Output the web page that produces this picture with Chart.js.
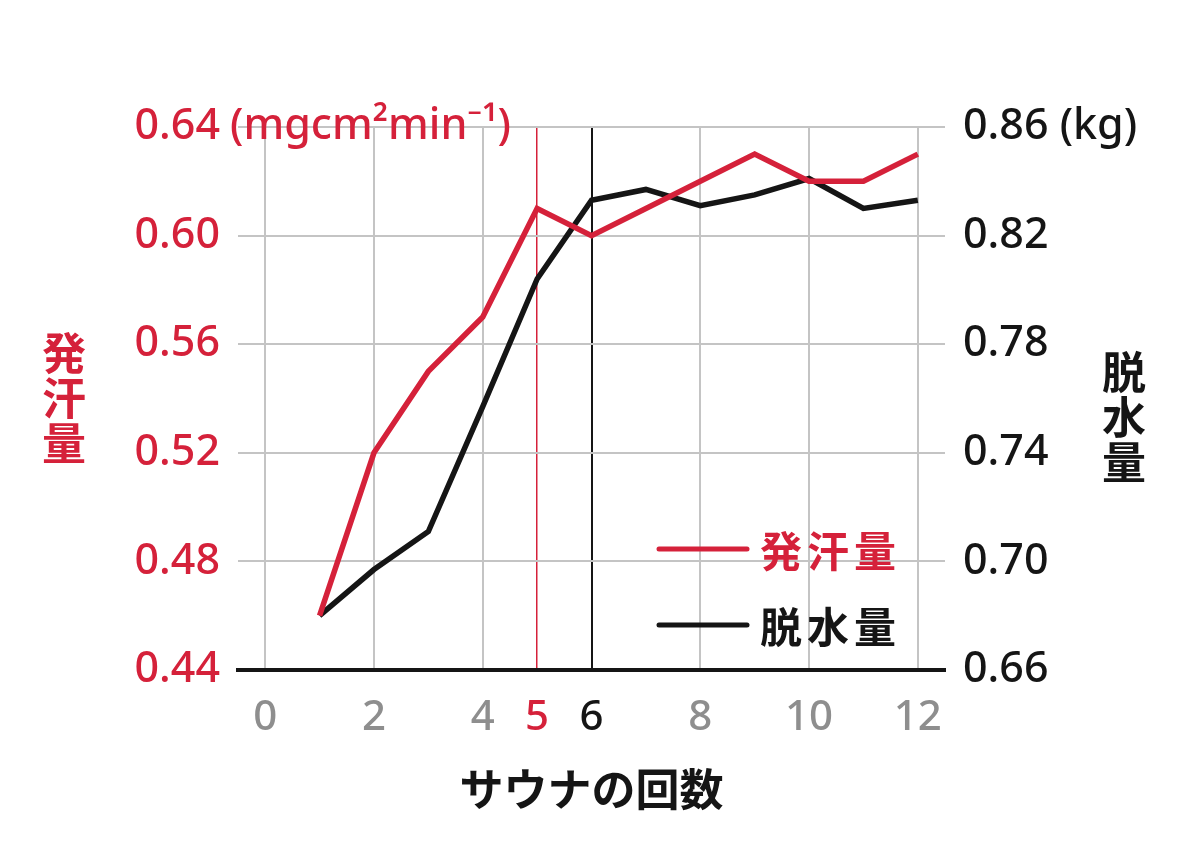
<!DOCTYPE html>
<html lang="ja">
<head>
<meta charset="utf-8">
<title>サウナの回数と発汗量・脱水量</title>
<script src="https://cdn.jsdelivr.net/npm/chart.js@4.4.1/dist/chart.umd.min.js"></script>
<style>
  html, body { margin: 0; padding: 0; background: #fff; }
  #wrap { width: 1200px; height: 864px; position: relative; }
</style>
</head>
<body>
<div id="wrap"><canvas id="chart-sauna"></canvas></div>
<script>
// データ
const sessions = [1, 2, 3, 4, 5, 6, 7, 8, 9, 10, 11, 12];
const sweat = [0.46, 0.52, 0.55, 0.57, 0.61, 0.60, 0.61, 0.62, 0.63, 0.62, 0.62, 0.63];
const dehydration = [0.680, 0.697, 0.711, 0.757, 0.804, 0.833, 0.837, 0.831, 0.835, 0.841, 0.830, 0.833];
const xTicks = [0, 2, 4, 5, 6, 8, 10, 12];
const leftTicks = [0.44, 0.48, 0.52, 0.56, 0.60, 0.64];
const rightTicks = [0.66, 0.70, 0.74, 0.78, 0.82, 0.86];
const labels = ['発汗量', '脱水量'];

const RED = '#d5213a';
const BLACK = '#151515';
const GRAY = '#c4c4c4';
const TICK_GRAY = '#8e8e8e';
const NUM_FONT = "'Noto Sans', 'Noto Sans CJK JP', sans-serif";
const JP_FONT = "'Noto Sans CJK JP', 'Noto Sans', sans-serif";

/* 縦書きタイトル・凡例・単位 */
const extras = {
    id: 'extras',
    afterDraw(chart) {
        const ctx = chart.ctx;
        const area = chart.chartArea;
        const yl = chart.scales.y;
        ctx.save();

        // 単位 (左軸の一番上)
        ctx.fillStyle = RED;
        ctx.font = '500 43px ' + NUM_FONT;
        ctx.textAlign = 'left';
        ctx.textBaseline = 'middle';
        ctx.fillText('(mgcm²min⁻¹)', area.left - 8, yl.getPixelForValue(leftTicks[leftTicks.length - 1]));

        // 縦書きの軸タイトル
        ctx.font = 'bold 44px ' + JP_FONT;
        ctx.textAlign = 'center';
        ctx.fillStyle = RED;
        const midY = (area.top + area.bottom) / 2;
        [...labels[0]].forEach((ch, i) => ctx.fillText(ch, 64, midY + (i - 1) * 45));
        ctx.fillStyle = BLACK;
        [...labels[1]].forEach((ch, i) => ctx.fillText(ch, 1124, midY + 19 + (i - 1) * 45));

        // 凡例
        chart.data.datasets.forEach((ds, i) => {
            const y = area.bottom - 121 + i * 76;
            ctx.strokeStyle = ds.borderColor;
            ctx.lineWidth = 5;
            ctx.lineCap = 'round';
            ctx.beginPath();
            ctx.moveTo(area.right - 286, y);
            ctx.lineTo(area.right - 198, y);
            ctx.stroke();
            ctx.fillStyle = ds.borderColor;
            ctx.font = 'bold 42px ' + JP_FONT;
            ctx.textAlign = 'left';
            ctx.letterSpacing = '5px';
            ctx.fillText(ds.label, area.right - 185, y + 2);
            ctx.letterSpacing = '0px';
        });
        ctx.restore();
    }
};

const chartSauna = new Chart(document.getElementById('chart-sauna').getContext('2d'), {
    type: 'line',
    data: {
        datasets: [{
            label: labels[0],
            data: sessions.map((s, i) => ({ x: s, y: sweat[i] })),
            borderColor: RED,
            borderWidth: 5.5,
            pointRadius: 0,
            tension: 0,
            yAxisID: 'y'
        }, {
            label: labels[1],
            data: sessions.map((s, i) => ({ x: s, y: dehydration[i] })),
            borderColor: BLACK,
            borderWidth: 5.5,
            pointRadius: 0,
            tension: 0,
            yAxisID: 'y1'
        }]
    },
    options: {
        responsive: true,
        maintainAspectRatio: false,
        animation: false,
        layout: {
            padding: { top: 127, left: 0, right: 0, bottom: 0 }
        },
        scales: {
            x: {
                type: 'linear',
                min: -0.5,
                max: 12.5,
                afterBuildTicks: (scale) => { scale.ticks = xTicks.map(v => ({ value: v })); },
                afterFit: (scale) => { scale.height = 194; },
                grid: {
                    drawTicks: false,
                    color: (c) => c.tick && c.tick.value === 5 ? RED : (c.tick && c.tick.value === 6 ? BLACK : GRAY),
                    lineWidth: (c) => c.tick && c.tick.value === 5 ? 1.5 : 2
                },
                border: { color: BLACK, width: 4 },
                ticks: {
                    padding: 23,
                    autoSkip: false,
                    maxRotation: 0,
                    font: { family: NUM_FONT, size: 42, weight: '500' },
                    color: (c) => c.tick.value === 5 ? RED : (c.tick.value === 6 ? BLACK : TICK_GRAY)
                },
                title: {
                    display: true,
                    text: 'サウナの回数',
                    color: BLACK,
                    font: { family: JP_FONT, size: 44, weight: 'bold' },
                    padding: { top: 0, bottom: 48 }
                }
            },
            y: {
                position: 'left',
                min: 0.44,
                max: 0.64,
                afterBuildTicks: (scale) => { scale.ticks = leftTicks.map(v => ({ value: v })); },
                afterFit: (scale) => { scale.width = 238; },
                grid: { drawTicks: false, color: GRAY, lineWidth: 2 },
                border: { display: false },
                ticks: {
                    padding: 18,
                    color: RED,
                    font: { family: NUM_FONT, size: 43, weight: '500' },
                    callback: (v) => Number(v).toFixed(2)
                }
            },
            y1: {
                position: 'right',
                min: 0.66,
                max: 0.86,
                afterBuildTicks: (scale) => { scale.ticks = rightTicks.map(v => ({ value: v })); },
                afterFit: (scale) => { scale.width = 255; },
                grid: { drawOnChartArea: false, drawTicks: false },
                border: { display: false },
                ticks: {
                    padding: 18,
                    color: BLACK,
                    font: { family: NUM_FONT, size: 43, weight: '500' },
                    callback: (v) => Number(v).toFixed(2) + (v === rightTicks[rightTicks.length - 1] ? ' (kg)' : '')
                }
            }
        },
        plugins: {
            legend: { display: false },
            tooltip: { enabled: false }
        }
    },
    plugins: [extras]
});
</script>
</body>
</html>
